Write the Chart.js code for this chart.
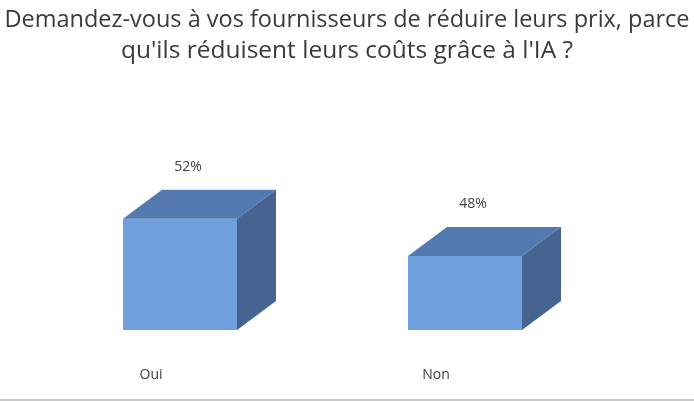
<!DOCTYPE html>
<html>
<head>
<meta charset="utf-8">
<script src="https://cdn.jsdelivr.net/npm/chart.js@4.4.0/dist/chart.umd.min.js"></script>
<style>
  html, body { margin: 0; padding: 0; background: #fff; }
  #wrap { width: 694px; height: 401px; }
</style>
</head>
<body>
<div id="wrap"><canvas id="bar-chart"></canvas></div>
<script>
var categories = ["Oui", "Non"];
var values = [52, 48];
var titleLines = ["Demandez-vous à vos fournisseurs de réduire leurs prix, parce", "qu'ils réduisent leurs coûts grâce à l'IA ?"];

// fake 3d: top + side faces drawn after the bars
var depthX = 39, depthY = 29;
var cube3d = {
    id: "cube3d",
    afterDatasetsDraw: function (chart) {
        var ctx = chart.ctx;
        var meta = chart.getDatasetMeta(0);
        meta.data.forEach(function (bar, i) {
            var l = bar.x - bar.width / 2, r = bar.x + bar.width / 2;
            var t = bar.y, b = Math.min(bar.base, chart.chartArea.bottom);
            // top
            ctx.fillStyle = "#5279b0";
            ctx.beginPath();
            ctx.moveTo(l, t);
            ctx.lineTo(l + depthX, t - depthY);
            ctx.lineTo(r + depthX, t - depthY);
            ctx.lineTo(r, t);
            ctx.closePath();
            ctx.fill();
            // side
            ctx.fillStyle = "#46648f";
            ctx.beginPath();
            ctx.moveTo(r, t);
            ctx.lineTo(r + depthX, t - depthY);
            ctx.lineTo(r + depthX, b - depthY);
            ctx.lineTo(r, b);
            ctx.closePath();
            ctx.fill();
            // value label
            ctx.fillStyle = "#404040";
            ctx.font = "14px 'Open Sans'";
            ctx.textAlign = "center";
            ctx.textBaseline = "middle";
            ctx.fillText(values[i] + "%", bar.x + 8, t - depthY - 23);
        });
        // bottom frame line
        ctx.strokeStyle = "#c8c8c8";
        ctx.lineWidth = 2;
        ctx.beginPath();
        ctx.moveTo(0, 400);
        ctx.lineTo(chart.width, 400);
        ctx.stroke();
    }
};

// invisible axes only used to reserve side space
var hiddenAxis = function (pos, w) {
    return {
        position: pos,
        grid: { display: false, drawTicks: false },
        border: { display: false },
        ticks: { display: false },
        afterFit: function (scale) { scale.width = w; }
    };
};
var yAxis = hiddenAxis("left", 33);
yAxis.min = 40;
yAxis.max = 60;

var ctx = document.getElementById("bar-chart").getContext("2d");
var myChart = new Chart(ctx, {
    type: "bar",
    data: {
        labels: categories,
        datasets: [{
            data: values,
            backgroundColor: "#6f9fdc",
            barPercentage: 0.8,
            categoryPercentage: 0.5
        }]
    },
    options: {
        responsive: true,
        maintainAspectRatio: false,
        animation: false,
        layout: { padding: { left: 4.5, right: 4.5, top: 4, bottom: 17 } },
        plugins: {
            legend: { display: false },
            tooltip: { enabled: false },
            title: {
                display: true,
                text: titleLines,
                color: "#3a3a3a",
                font: { family: "'Open Sans'", size: 24.5, weight: "normal", lineHeight: 1.27 },
                padding: { top: 0, bottom: 78.5 }
            }
        },
        scales: {
            x: {
                grid: { display: false, drawTicks: false },
                border: { display: false },
                ticks: {
                    color: "#404040",
                    font: { family: "'Open Sans'", size: 14 },
                    padding: 37,
                    labelOffset: -29
                },
                afterFit: function (scale) { scale.height = 54; }
            },
            y: yAxis,
            yRight: hiddenAxis("right", 82)
        }
    },
    plugins: [cube3d]
});
</script>
</body>
</html>
